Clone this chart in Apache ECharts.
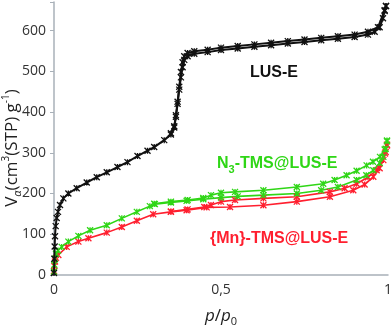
<!DOCTYPE html>
<html>
<head>
    <meta charset="utf-8">
    <title>Isotherms</title>
    <script src="https://cdn.jsdelivr.net/npm/echarts@6/dist/echarts.min.js"></script>
    <style>
        html, body { margin: 0; padding: 0; background: #fff; }
        #main { width: 392px; height: 325px; }
    </style>
</head>
<body>
<div id="main"></div>
<script type="text/javascript">
    // [p/p0, V] pairs
    var lusAds = [[0, 5], [0.001, 40], [0.002, 70], [0.003, 95], [0.005, 120], [0.008, 140], [0.012, 155], [0.018, 172],
        [0.028, 188], [0.043, 200], [0.068, 213], [0.098, 227], [0.128, 240], [0.158, 252], [0.19, 265], [0.22, 277],
        [0.25, 292], [0.28, 305], [0.30, 314], [0.33, 331], [0.35, 345], [0.36, 362], [0.365, 388], [0.37, 420],
        [0.375, 455], [0.38, 485], [0.385, 510], [0.39, 528], [0.40, 537], [0.42, 543], [0.46, 547], [0.50, 552],
        [0.55, 556], [0.60, 560], [0.65, 564], [0.70, 568], [0.75, 572], [0.80, 576], [0.85, 580], [0.90, 584],
        [0.94, 590], [0.96, 597], [0.975, 608], [0.985, 630], [0.99, 648], [0.994, 660]];
    var lusDes = [[0.994, 660], [0.99, 650], [0.97, 608], [0.94, 597], [0.90, 590], [0.85, 586], [0.80, 582],
        [0.75, 578], [0.70, 574], [0.65, 570], [0.60, 566], [0.55, 562], [0.50, 558], [0.46, 553], [0.42, 549],
        [0.40, 545], [0.39, 537], [0.385, 522], [0.38, 498], [0.375, 462], [0.37, 425], [0.365, 392], [0.36, 365],
        [0.35, 348]];
    var n3Ads = [[0, 8], [0.001, 25], [0.003, 40], [0.006, 52], [0.012, 60], [0.023, 69], [0.043, 82], [0.073, 96],
        [0.108, 110], [0.158, 122], [0.203, 139], [0.248, 155], [0.287, 169], [0.302, 174], [0.35, 178], [0.397, 182],
        [0.447, 186], [0.50, 190], [0.55, 193], [0.627, 196], [0.727, 200], [0.80, 208], [0.85, 216], [0.906, 233],
        [0.935, 245], [0.956, 257], [0.975, 275], [0.986, 290], [0.993, 310], [0.997, 328]];
    var n3Des = [[0.997, 330], [0.99, 308], [0.976, 290], [0.955, 278], [0.936, 269], [0.906, 256], [0.876, 245],
        [0.84, 233], [0.806, 224], [0.727, 216], [0.627, 208], [0.542, 204], [0.50, 202], [0.47, 196], [0.447, 189],
        [0.40, 184], [0.35, 180], [0.30, 175]];
    var mnAds = [[0, 10], [0.001, 22], [0.003, 33], [0.006, 42], [0.013, 49], [0.038, 69], [0.073, 82], [0.103, 90],
        [0.158, 104], [0.203, 118], [0.248, 133], [0.297, 149], [0.35, 155], [0.397, 159], [0.457, 166], [0.527, 167],
        [0.627, 171], [0.727, 180], [0.826, 192], [0.896, 208], [0.93, 222], [0.956, 241], [0.975, 262], [0.986, 282],
        [0.993, 302], [0.997, 318]];
    var mnDes = [[0.997, 320], [0.991, 298], [0.966, 257], [0.94, 240], [0.906, 224], [0.87, 213], [0.826, 204],
        [0.727, 192], [0.627, 188], [0.542, 184], [0.50, 180], [0.47, 172], [0.45, 167], [0.40, 161], [0.35, 156]];

    var xTicks = [0, 0.5, 1];
    var yTicks = [0, 100, 200, 300, 400, 500, 600];

    var black = '#111111', green = '#2fd616', red = '#ff1f2f';
    var star = 'path://M0,0L8,8M8,0L0,8M4,0L4,8';

    function line(data, color, width) {
        return {
            type: 'line',
            data: data,
            symbol: star,
            symbolSize: 6,
            showAllSymbol: true,
            lineStyle: {color: color, width: width},
            itemStyle: {color: 'transparent', borderColor: color, borderWidth: 1.3},
            z: color === black ? 3 : 2,
            silent: true
        };
    }

    var chart = echarts.init(document.getElementById('main'));
    chart.setOption({
        animation: false,
        grid: {left: 54, right: 4, top: 2, bottom: 50, outerBoundsMode: 'none'},
        xAxis: {
            type: 'value', min: 0, max: 1, interval: 0.5,
            axisLine: {lineStyle: {color: '#a8b0b8', width: 1.5}},
            axisTick: {show: false},
            splitLine: {show: false},
            axisLabel: {
                color: '#333', fontSize: 14, fontFamily: 'Open Sans', margin: 8,
                formatter: function (v) {
                    return xTicks.indexOf(v) >= 0 ? String(v).replace('.', ',') : '';
                }
            },
            name: '{i|p}/{i|p}{sub|0}',
            nameLocation: 'middle',
            nameGap: 30,
            nameTextStyle: {
                color: '#222', fontSize: 17, fontFamily: 'Open Sans',
                rich: {
                    i: {fontStyle: 'italic', fontSize: 17, fontFamily: 'Open Sans', color: '#222'},
                    sub: {fontSize: 11, verticalAlign: 'bottom', lineHeight: 22, fontFamily: 'Open Sans', color: '#222'}
                }
            }
        },
        yAxis: {
            type: 'value', min: 0, max: 670, interval: 100,
            axisLine: {show: true, lineStyle: {color: '#a8b0b8', width: 1.5}},
            axisTick: {show: true, length: 4, lineStyle: {color: '#a8b0b8'}},
            splitLine: {show: false},
            axisLabel: {
                color: '#333', fontSize: 14, fontFamily: 'Open Sans', margin: 8,
                formatter: function (v) {
                    return yTicks.indexOf(v) >= 0 ? String(v) : '';
                }
            }
        },
        graphic: [{
            // y axis title, rotated
            type: 'text', x: 12, y: 148, rotation: Math.PI / 2,
            style: {
                text: '{n|V}{sub|α}{n|(cm}{sup|3}{n|(STP) g}{sup|-1}{n|)}',
                align: 'center', verticalAlign: 'middle',
                rich: {
                    n: {fill: '#222', fontSize: 17, fontFamily: 'Open Sans', lineHeight: 22},
                    sub: {fill: '#222', fontSize: 11, fontStyle: 'italic', fontFamily: 'Open Sans', verticalAlign: 'bottom', lineHeight: 22},
                    sup: {fill: '#222', fontSize: 10, fontFamily: 'Open Sans', verticalAlign: 'top', lineHeight: 22}
                }
            }
        }, {
            type: 'text', left: 250, top: 65,
            style: {text: 'LUS-E', fill: black, font: 'bold 16px "Liberation Sans"'}
        }, {
            type: 'text', left: 217, top: 156,
            style: {
                text: '{b|N}{s|3}{b|-TMS@LUS-E}',
                rich: {
                    b: {fill: green, fontSize: 16, fontWeight: 'bold', fontFamily: 'Liberation Sans'},
                    s: {fill: green, fontSize: 11, fontWeight: 'bold', fontFamily: 'Liberation Sans', verticalAlign: 'bottom', lineHeight: 22}
                }
            }
        }, {
            type: 'text', left: 210, top: 231,
            style: {text: '{Mn}-TMS@LUS-E', fill: red, font: 'bold 16px "Liberation Sans"'}
        }],
        series: [
            line(mnAds, red, 1.6), line(mnDes, red, 1.6),
            line(n3Ads, green, 1.6), line(n3Des, green, 1.6),
            line(lusAds, black, 2), line(lusDes, black, 2)
        ]
    });
</script>
</body>
</html>
